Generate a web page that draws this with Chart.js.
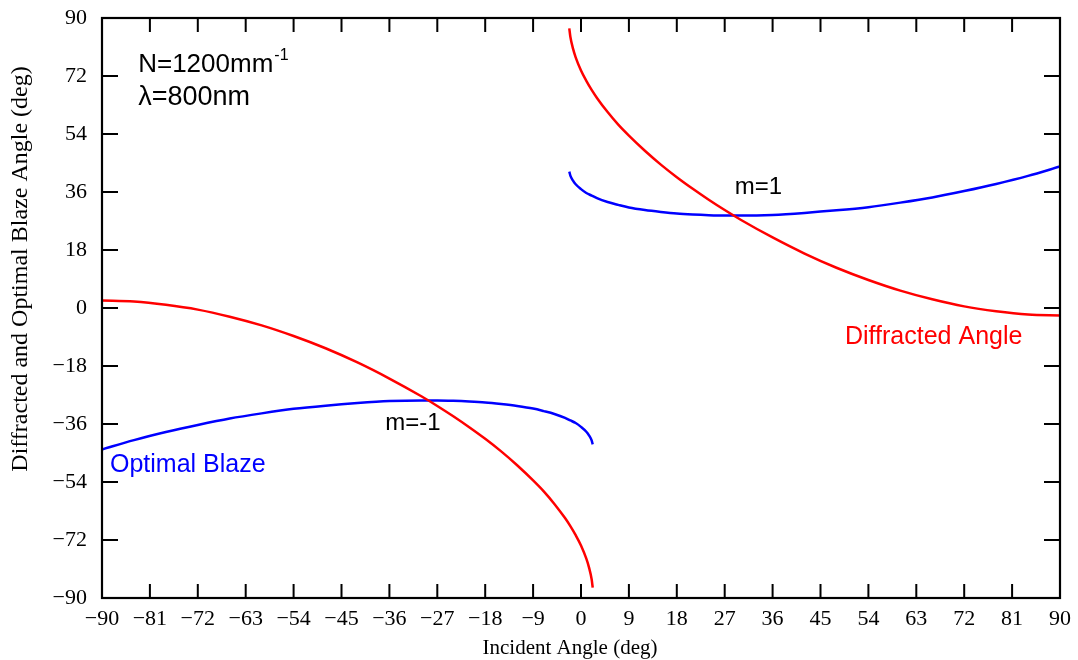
<!DOCTYPE html>
<html>
<head>
<meta charset="utf-8">
<script src="https://cdn.jsdelivr.net/npm/chart.js@4/dist/chart.umd.min.js"></script>
<style>
  body { margin: 0; background: #fff; }
  canvas { display: block; }
</style>
</head>
<body>
<canvas id="gratingChart" width="1078" height="660"></canvas>
<script>
// Orden m=1 (ángulo de incidencia, difractado y blaze óptimo)
const incidentPos = [-2.2, -2, -1.5, -1, 0, 1, 2, 3, 5, 7, 9, 12, 15, 18, 21, 24, 27, 30, 36, 42, 48, 54, 60, 66, 72, 78, 84, 90];
const diffractedPos = [86.8, 84.2, 80.5, 77.8, 73.7, 70.5, 67.7, 65.2, 60.8, 56.9, 53.5, 48.8, 44.5, 40.6, 37.0, 33.6, 30.4, 27.4, 21.9, 16.9, 12.5, 8.7, 5.4, 2.7, 0.5, -1.0, -2.0, -2.3];
const blazePos = [42.3, 41.1, 39.5, 38.4, 36.9, 35.7, 34.9, 34.1, 32.9, 32.0, 31.2, 30.4, 29.8, 29.3, 29.0, 28.8, 28.7, 28.7, 28.9, 29.5, 30.3, 31.3, 32.7, 34.3, 36.3, 38.5, 41.0, 43.9];

// Orden m=-1
const incidentNeg = [-90, -84, -78, -72, -66, -60, -54, -48, -42, -36, -30, -27, -24, -21, -18, -15, -12, -9, -7, -5, -3, -2, -1, 0, 1, 1.5, 2, 2.2];
const diffractedNeg = [2.3, 2.0, 1.0, -0.5, -2.7, -5.4, -8.7, -12.5, -16.9, -21.9, -27.4, -30.4, -33.6, -37.0, -40.6, -44.5, -48.8, -53.5, -56.9, -60.8, -65.2, -67.7, -70.5, -73.7, -77.8, -80.5, -84.2, -86.8];
const blazeNeg = [-43.9, -41.0, -38.5, -36.3, -34.3, -32.7, -31.3, -30.3, -29.5, -28.9, -28.7, -28.7, -28.8, -29.0, -29.3, -29.8, -30.4, -31.2, -32.0, -32.9, -34.1, -34.9, -35.7, -36.9, -38.4, -39.5, -41.1, -42.3];

// Ejes
const xTickStep = 9;
const yTickStep = 18;
const axisMin = -90;
const axisMax = 90;

const RED = "#ff0000";
const BLUE = "#0000ff";

function toPoints(xs, ys) {
  return xs.map((x, i) => ({ x: x, y: ys[i] }));
}

function lineSet(label, xs, ys, color) {
  return {
    label: label,
    data: toPoints(xs, ys),
    showLine: true,
    borderColor: color,
    borderWidth: 2.5,
    pointRadius: 0,
    cubicInterpolationMode: "monotone",
    fill: false,
  };
}

// Textos dentro del gráfico (en coordenadas de datos)
const notes = [
  { text: "N=1200mm", sup: "-1", x: -83.2, y: 75.4, color: "#000", size: 26 },
  { text: "λ=800nm", x: -83.2, y: 65.4, color: "#000", size: 27 },
  { text: "m=1", x: 28.9, y: 37.5, color: "#000", size: 24 },
  { text: "m=-1", x: -36.8, y: -35.7, color: "#000", size: 24 },
  { text: "Diffracted Angle", x: 49.6, y: -9.0, color: RED, size: 25 },
  { text: "Optimal Blaze", x: -88.5, y: -48.7, color: BLUE, size: 25 },
];

const SERIF = "'Liberation Serif', 'Times New Roman', serif";
const SANS = "'Liberation Sans', Arial, sans-serif";

// Marco, marcas internas, títulos y anotaciones
const framePlugin = {
  id: "frame",
  beforeDraw(chart) {
    const ctx = chart.ctx;
    ctx.save();
    ctx.fillStyle = "#fff";
    ctx.fillRect(0, 0, chart.width, chart.height);
    ctx.restore();
  },
  afterDraw(chart) {
    const ctx = chart.ctx;
    const a = chart.chartArea;
    const xs = chart.scales.x;
    const ys = chart.scales.y;
    ctx.save();
    ctx.strokeStyle = "#000";
    ctx.lineWidth = 2;

    // marcas en los cuatro lados
    ctx.beginPath();
    xs.ticks.forEach((t) => {
      const px = xs.getPixelForValue(t.value);
      ctx.moveTo(px, a.bottom);
      ctx.lineTo(px, a.bottom - 14);
      ctx.moveTo(px, a.top);
      ctx.lineTo(px, a.top + 14);
    });
    ys.ticks.forEach((t) => {
      const py = ys.getPixelForValue(t.value);
      ctx.moveTo(a.left, py);
      ctx.lineTo(a.left + 16, py);
      ctx.moveTo(a.right, py);
      ctx.lineTo(a.right - 16, py);
    });
    ctx.stroke();

    ctx.lineWidth = 2.2;
    ctx.strokeRect(a.left, a.top, a.right - a.left, a.bottom - a.top);

    // anotaciones
    ctx.textBaseline = "middle";
    ctx.textAlign = "left";
    notes.forEach((n) => {
      const px = xs.getPixelForValue(n.x);
      const py = ys.getPixelForValue(n.y);
      ctx.fillStyle = n.color;
      ctx.font = n.size + "px " + SANS;
      ctx.fillText(n.text, px, py);
      if (n.sup) {
        const w = ctx.measureText(n.text).width;
        ctx.font = Math.round(n.size * 0.62) + "px " + SANS;
        ctx.fillText(n.sup, px + w + 1, py - n.size * 0.36);
      }
    });

    // títulos de los ejes
    ctx.fillStyle = "#000";
    ctx.textAlign = "center";
    ctx.font = "21px " + SERIF;
    ctx.fillText("Incident Angle (deg)", 570, 648);
    ctx.translate(21, 269);
    ctx.rotate(-Math.PI / 2);
    ctx.font = "24px " + SERIF;
    ctx.fillText("Diffracted and Optimal Blaze Angle (deg)", 0, 0);
    ctx.restore();
  },
};

function minusSign(value) {
  return String(value).replace("-", "\u2212");
}

const ctx = document.getElementById("gratingChart").getContext("2d");
const gratingChart = new Chart(ctx, {
  type: "scatter",
  data: {
    datasets: [
      lineSet("Diffracted m=1", incidentPos, diffractedPos, RED),
      lineSet("Blaze m=1", incidentPos, blazePos, BLUE),
      lineSet("Diffracted m=-1", incidentNeg, diffractedNeg, RED),
      lineSet("Blaze m=-1", incidentNeg, blazeNeg, BLUE),
    ],
  },
  options: {
    responsive: false,
    animation: false,
    layout: { padding: { top: 18, right: 18, left: 0, bottom: 0 } },
    plugins: {
      legend: { display: false },
      tooltip: { enabled: false },
    },
    scales: {
      x: {
        type: "linear",
        min: axisMin,
        max: axisMax,
        grid: { display: false, drawTicks: false },
        border: { display: false },
        ticks: {
          stepSize: xTickStep,
          autoSkip: false,
          maxRotation: 0,
          padding: 8,
          color: "#000",
          font: { family: SERIF, size: 22 },
          callback: (v) => minusSign(v),
        },
        afterFit: (scale) => {
          scale.height = 62;
          scale.paddingLeft = 0;
          scale.paddingRight = 0;
        },
      },
      y: {
        type: "linear",
        min: axisMin,
        max: axisMax,
        grid: { display: false, drawTicks: false },
        border: { display: false },
        ticks: {
          stepSize: yTickStep,
          autoSkip: false,
          padding: 15,
          color: "#000",
          font: { family: SERIF, size: 22 },
          callback: (v) => minusSign(v),
        },
        afterFit: (scale) => {
          scale.width = 102;
          scale.paddingTop = 0;
          scale.paddingBottom = 0;
        },
      },
    },
  },
  plugins: [framePlugin],
});
</script>
</body>
</html>
